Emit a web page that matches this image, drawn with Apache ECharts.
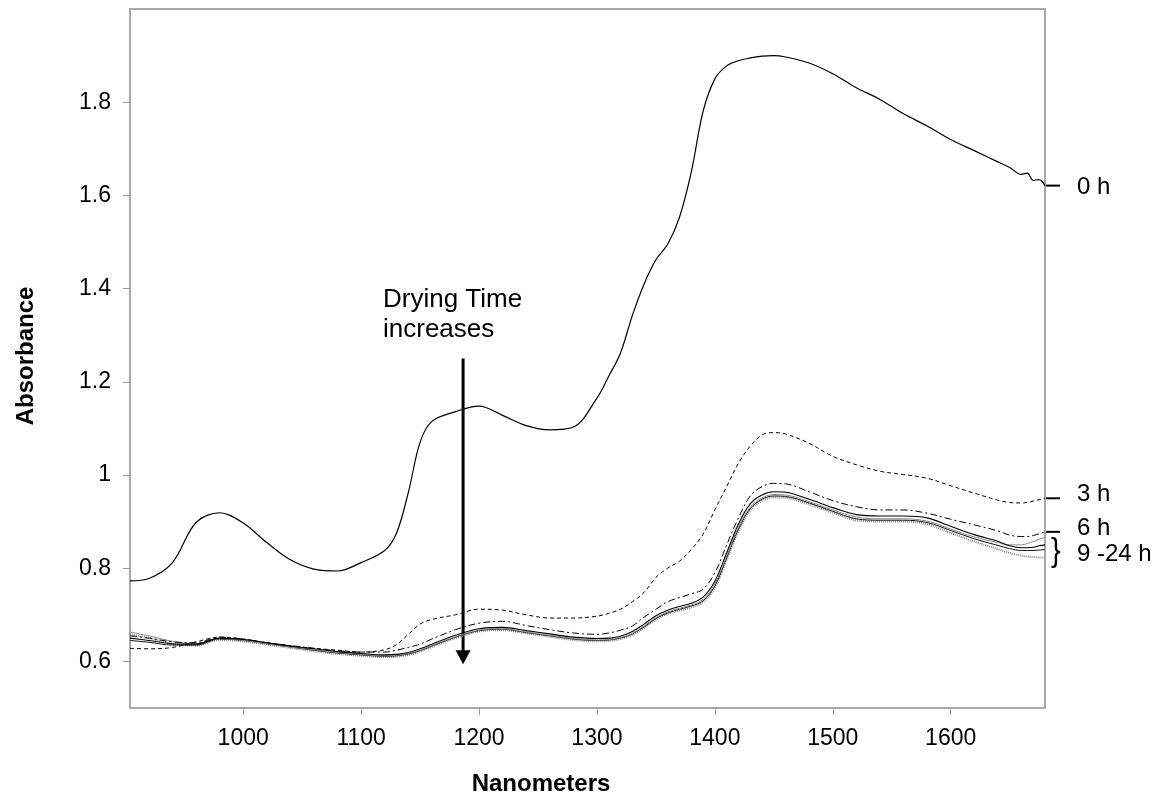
<!DOCTYPE html>
<html>
<head>
<meta charset="utf-8">
<script src="https://cdn.jsdelivr.net/npm/echarts@6/dist/echarts.min.js"></script>
<style>
  html, body { margin: 0; padding: 0; background: #fff; }
  #chart { width: 1161px; height: 802px; }
</style>
</head>
<body>
<div id="chart"></div>
<script>
// NIR absorbance spectra of a drying sample, one curve per drying time.
const wavelengths = [904, 920, 940, 960, 980, 1000, 1020, 1040, 1060, 1080, 1100, 1120, 1130, 1140, 1150, 1160, 1180, 1200, 1220, 1240, 1260, 1280, 1300, 1310, 1320, 1330, 1340, 1350, 1360, 1370, 1380, 1390, 1400, 1410, 1420, 1430, 1440, 1450, 1460, 1480, 1500, 1520, 1540, 1560, 1580, 1600, 1620, 1640, 1650, 1660, 1665, 1670, 1675, 1680];

const abs0h = [0.773, 0.778, 0.812, 0.898, 0.919, 0.897, 0.855, 0.818, 0.798, 0.794, 0.812, 0.838, 0.875, 0.962, 1.070, 1.115, 1.136, 1.148, 1.128, 1.106, 1.097, 1.103, 1.165, 1.212, 1.262, 1.342, 1.410, 1.462, 1.495, 1.553, 1.650, 1.780, 1.850, 1.878, 1.889, 1.895, 1.899, 1.900, 1.897, 1.884, 1.861, 1.831, 1.806, 1.775, 1.749, 1.720, 1.696, 1.672, 1.660, 1.645, 1.648, 1.632, 1.634, 1.621];
const abs3h = [0.628, 0.627, 0.630, 0.642, 0.652, 0.648, 0.640, 0.633, 0.628, 0.624, 0.620, 0.625, 0.636, 0.658, 0.680, 0.690, 0.700, 0.712, 0.710, 0.700, 0.693, 0.693, 0.697, 0.703, 0.712, 0.728, 0.748, 0.780, 0.800, 0.815, 0.840, 0.873, 0.925, 0.975, 1.025, 1.062, 1.086, 1.091, 1.088, 1.068, 1.040, 1.022, 1.008, 1.001, 0.993, 0.977, 0.961, 0.946, 0.941, 0.940, 0.941, 0.944, 0.947, 0.950];
const abs6h = [0.655, 0.650, 0.642, 0.640, 0.652, 0.648, 0.640, 0.634, 0.628, 0.623, 0.620, 0.620, 0.624, 0.630, 0.637, 0.648, 0.668, 0.682, 0.686, 0.677, 0.668, 0.661, 0.658, 0.661, 0.667, 0.676, 0.695, 0.712, 0.728, 0.737, 0.745, 0.755, 0.790, 0.850, 0.908, 0.955, 0.975, 0.982, 0.981, 0.964, 0.945, 0.932, 0.925, 0.925, 0.918, 0.905, 0.893, 0.880, 0.871, 0.868, 0.868, 0.870, 0.874, 0.878];
const abs9h = [0.650, 0.645, 0.638, 0.637, 0.650, 0.647, 0.640, 0.633, 0.627, 0.621, 0.617, 0.614, 0.615, 0.619, 0.627, 0.637, 0.656, 0.670, 0.673, 0.666, 0.659, 0.652, 0.649, 0.650, 0.654, 0.664, 0.680, 0.698, 0.710, 0.718, 0.725, 0.738, 0.772, 0.833, 0.895, 0.938, 0.957, 0.964, 0.963, 0.948, 0.930, 0.915, 0.912, 0.912, 0.908, 0.890, 0.872, 0.858, 0.848, 0.844, 0.844, 0.845, 0.848, 0.850];
const abs12h = [0.663, 0.655, 0.643, 0.638, 0.649, 0.645, 0.638, 0.631, 0.625, 0.619, 0.615, 0.612, 0.613, 0.617, 0.624, 0.634, 0.653, 0.667, 0.670, 0.663, 0.656, 0.649, 0.646, 0.647, 0.651, 0.660, 0.676, 0.694, 0.706, 0.714, 0.721, 0.733, 0.766, 0.826, 0.888, 0.931, 0.951, 0.958, 0.957, 0.943, 0.925, 0.910, 0.906, 0.906, 0.901, 0.884, 0.867, 0.855, 0.850, 0.850, 0.853, 0.857, 0.862, 0.866];
const abs18h = [0.645, 0.641, 0.635, 0.635, 0.648, 0.645, 0.638, 0.631, 0.624, 0.618, 0.614, 0.611, 0.612, 0.616, 0.623, 0.633, 0.652, 0.666, 0.669, 0.662, 0.655, 0.648, 0.645, 0.646, 0.650, 0.659, 0.674, 0.692, 0.704, 0.712, 0.719, 0.730, 0.762, 0.822, 0.884, 0.928, 0.948, 0.955, 0.954, 0.940, 0.922, 0.906, 0.903, 0.903, 0.898, 0.881, 0.863, 0.849, 0.842, 0.838, 0.838, 0.838, 0.839, 0.840];
const abs24h = [0.658, 0.650, 0.638, 0.634, 0.646, 0.643, 0.636, 0.629, 0.622, 0.616, 0.612, 0.609, 0.610, 0.614, 0.621, 0.631, 0.650, 0.664, 0.667, 0.660, 0.653, 0.646, 0.643, 0.644, 0.648, 0.657, 0.672, 0.690, 0.702, 0.709, 0.716, 0.727, 0.758, 0.818, 0.880, 0.924, 0.945, 0.952, 0.951, 0.937, 0.919, 0.903, 0.900, 0.900, 0.894, 0.876, 0.857, 0.841, 0.833, 0.827, 0.825, 0.824, 0.823, 0.823];

const xTicks = [1000, 1100, 1200, 1300, 1400, 1500, 1600];
const yTicks = [0.6, 0.8, 1.0, 1.2, 1.4, 1.6, 1.8];

// arrow showing the direction of drying (data units)
const arrowX = 1186.5;
const arrowFrom = 1.25;
const arrowTo = 0.594;
// range covered by the 9–24 h bracket
const bracketRange = [0.803, 0.867];

const FONT = '"Liberation Sans", Arial, sans-serif';

function pairs(ys) { return wavelengths.map((w, i) => [w, ys[i]]); }

function lineSeries(name, ys, style) {
  return {
    name: name,
    type: 'line',
    data: pairs(ys),
    showSymbol: false,
    smooth: 0.35,
    silent: true,
    lineStyle: Object.assign({ color: '#000', width: 1 }, style),
    z: 2
  };
}

const chart = echarts.init(document.getElementById('chart'), null, { renderer: 'canvas' });

chart.setOption({
  animation: false,
  backgroundColor: '#fff',
  grid: {
    left: 130, right: 116, top: 9, bottom: 94,
    outerBoundsMode: 'none',
    containLabel: false,
    show: true, borderColor: '#a8a8a8', borderWidth: 2, backgroundColor: 'transparent'
  },
  xAxis: {
    type: 'value', min: 904, max: 1680,
    axisLine: { show: false },
    splitLine: { show: false },
    axisTick: { show: true, length: 7, customValues: xTicks, lineStyle: { color: '#999', width: 1 } },
    axisLabel: {
      customValues: xTicks, margin: 19, fontFamily: FONT, fontSize: 23, color: '#000',
      formatter: v => String(v)
    }
  },
  yAxis: {
    type: 'value', min: 0.5, max: 2.0,
    axisLine: { show: false },
    splitLine: { show: false },
    axisTick: { show: true, length: 7, customValues: yTicks, lineStyle: { color: '#999', width: 1 } },
    axisLabel: {
      customValues: yTicks, margin: 19, fontFamily: FONT, fontSize: 23, color: '#000',
      formatter: v => String(Math.round(v * 10) / 10)
    }
  },
  series: [
    lineSeries('24 h', abs24h, { color: '#8a8a8a', width: 2, type: [1, 1] }),
    lineSeries('18 h', abs18h, { color: '#111', width: 1 }),
    lineSeries('12 h', abs12h, { color: '#888', width: 1 }),
    lineSeries('9 h', abs9h, { color: '#000', width: 1.1 }),
    lineSeries('6 h', abs6h, { color: '#000', width: 1, type: [7, 3, 2, 3] }),
    lineSeries('3 h', abs3h, { color: '#000', width: 1, type: [4, 3] }),
    lineSeries('0 h', abs0h, { color: '#000', width: 1.2 })
  ]
});

// Annotations placed from data values through the chart's own scales
const px = (x, y) => chart.convertToPixel({ gridIndex: 0 }, [x, y]);
const xEnd = wavelengths[wavelengths.length - 1];
const graphics = [];

function endTag(label, value, dy) {
  const p = px(xEnd, value);
  graphics.push({
    type: 'line', silent: true,
    shape: { x1: p[0] + 1, y1: p[1], x2: p[0] + 15, y2: p[1] },
    style: { stroke: '#000', lineWidth: 2 }
  });
  graphics.push({
    type: 'text', silent: true, x: p[0] + 32, y: p[1] + dy,
    style: { text: label, font: '24px ' + FONT, fill: '#000', verticalAlign: 'middle' }
  });
}
endTag('0 h', abs0h[abs0h.length - 1], 2);
endTag('3 h', abs3h[abs3h.length - 1], -4);
endTag('6 h', abs6h[abs6h.length - 1], -3);

// bracket for the 9–24 h group
const bTop = px(xEnd, bracketRange[1]);
const bBot = px(xEnd, bracketRange[0]);
const bMid = (bTop[1] + bBot[1]) / 2;
graphics.push({
  type: 'text', silent: true, x: bTop[0] + 6, y: bMid,
  style: { text: '}', font: '34px ' + FONT, fill: '#000', verticalAlign: 'middle' },
  scaleX: 0.85
});
graphics.push({
  type: 'text', silent: true, x: bTop[0] + 32, y: bMid + 2,
  style: { text: '9 -24 h', font: '24px ' + FONT, fill: '#000', verticalAlign: 'middle' }
});

// arrow
const aTop = px(arrowX, arrowFrom);
const aTip = px(arrowX, arrowTo);
graphics.push({
  type: 'line', silent: true,
  shape: { x1: aTop[0], y1: aTop[1], x2: aTip[0], y2: aTip[1] - 12 },
  style: { stroke: '#000', lineWidth: 3 }
});
graphics.push({
  type: 'polygon', silent: true,
  shape: { points: [[aTip[0] - 7.5, aTip[1] - 14], [aTip[0] + 7.5, aTip[1] - 14], [aTip[0], aTip[1]]] },
  style: { fill: '#000' }
});
graphics.push({
  type: 'text', silent: true, x: 383, y: 315,
  style: { text: 'Drying Time\nincreases', font: '26px ' + FONT, fill: '#000', verticalAlign: 'middle', lineHeight: 30 }
});

// axis titles
graphics.push({
  type: 'text', silent: true, x: 541, y: 784,
  style: { text: 'Nanometers', font: 'bold 24px ' + FONT, fill: '#000', align: 'center', verticalAlign: 'middle' }
});
graphics.push({
  type: 'text', silent: true, x: 26, y: 356, rotation: Math.PI / 2,
  style: { text: 'Absorbance', font: 'bold 24px ' + FONT, fill: '#000', align: 'center', verticalAlign: 'middle' }
});

chart.setOption({ graphic: graphics });
</script>
</body>
</html>
